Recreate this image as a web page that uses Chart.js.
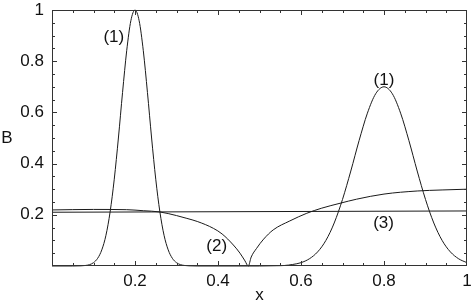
<!DOCTYPE html>
<html>
<head>
<meta charset="utf-8">
<script src="https://cdn.jsdelivr.net/npm/chart.js@4.4.1/dist/chart.umd.min.js"></script>
<style>
  html, body { margin: 0; padding: 0; background: #fff; }
</style>
</head>
<body>
<canvas id="bChart" width="472" height="304"></canvas>
<script>
// curve (1): two peaks
var curve1X = [0, 0.05, 0.07, 0.08, 0.09, 0.10, 0.11, 0.12, 0.13, 0.14, 0.15, 0.16, 0.17, 0.18, 0.19, 0.20,
  0.21, 0.22, 0.23, 0.24, 0.25, 0.26, 0.27, 0.28, 0.29, 0.30, 0.31, 0.32, 0.33, 0.35, 0.50,
  0.54, 0.56, 0.58, 0.60, 0.62, 0.64, 0.66, 0.68, 0.70, 0.72, 0.74, 0.76, 0.78, 0.80,
  0.82, 0.84, 0.86, 0.88, 0.90, 0.92, 0.94, 0.96, 0.98, 1.00];
var curve1Y = [0, 0, 0.0007, 0.002, 0.005, 0.013, 0.030, 0.063, 0.120, 0.211, 0.339, 0.50, 0.678, 0.841, 0.958, 1.0,
  0.958, 0.841, 0.678, 0.50, 0.339, 0.211, 0.120, 0.063, 0.030, 0.013, 0.005, 0.002, 0.0007, 0, 0,
  0.001, 0.002, 0.006, 0.013, 0.028, 0.055, 0.100, 0.168, 0.260, 0.371, 0.490, 0.597, 0.673, 0.70,
  0.673, 0.597, 0.490, 0.371, 0.260, 0.168, 0.100, 0.055, 0.028, 0.013];

// curve (2): dips to zero near x = 0.473
var curve2X = [0, 0.10, 0.18, 0.22, 0.26, 0.30, 0.325, 0.35, 0.389, 0.41, 0.437, 0.453, 0.465, 0.473,
  0.48, 0.493, 0.51, 0.533, 0.573, 0.614, 0.65, 0.694, 0.734, 0.80, 0.88, 0.94, 1.00];
var curve2Y = [0.219, 0.221, 0.220, 0.216, 0.211, 0.197, 0.186, 0.174, 0.147, 0.125, 0.082, 0.050, 0.020, 0,
  0.035, 0.069, 0.105, 0.141, 0.176, 0.206, 0.226, 0.245, 0.261, 0.281, 0.293, 0.297, 0.300];

// curve (3): nearly constant
var curve3X = [0, 1];
var curve3Y = [0.210, 0.215];

var xTickValues = [0.2, 0.4, 0.6, 0.8, 1];
var yTickValues = [0.2, 0.4, 0.6, 0.8, 1];

var curveNames = ['(1)', '(1)', '(2)', '(3)'];
var nameX = [0.149, 0.80, 0.397, 0.799];
var nameY = [0.895, 0.727, 0.078, 0.167];

function toPoints(xs, ys) {
  return xs.map(function(x, i) { return {x: x, y: ys[i]}; });
}

var lineColor = '#1a1a1a';
var font = 'Liberation Sans, Arial, Helvetica, sans-serif';

// frame, inward ticks, curve names and the B label
var framePlugin = {
  id: 'frame',
  afterDraw: function(chart) {
    var ctx = chart.ctx;
    var a = chart.chartArea;
    var xs = chart.scales.x, ys = chart.scales.y;
    ctx.save();
    ctx.strokeStyle = '#333';
    ctx.lineWidth = 1;
    ctx.strokeRect(a.left + 0.5, a.top + 0.5, a.right - a.left - 1, a.bottom - a.top - 1);
    ctx.beginPath();
    for (var i = 1; i < 20; i++) {
      var len = (i % 4 === 0) ? 5 : 3;
      var px = Math.round(xs.getPixelForValue(i / 20)) + 0.5;
      ctx.moveTo(px, a.bottom); ctx.lineTo(px, a.bottom - len);
      ctx.moveTo(px, a.top); ctx.lineTo(px, a.top + len);
      var py = Math.round(ys.getPixelForValue(i / 20)) + 0.5;
      ctx.moveTo(a.left, py); ctx.lineTo(a.left + len, py);
      ctx.moveTo(a.right, py); ctx.lineTo(a.right - len, py);
    }
    ctx.stroke();

    ctx.fillStyle = '#111';
    ctx.font = '17px ' + font;
    ctx.textAlign = 'center';
    ctx.textBaseline = 'middle';
    curveNames.forEach(function(t, i) {
      ctx.fillText(t, xs.getPixelForValue(nameX[i]), ys.getPixelForValue(nameY[i]));
    });
    ctx.fillText('B', 7, (a.top + a.bottom) / 2);
    ctx.restore();
  }
};

var ctx = document.getElementById('bChart').getContext('2d');
var bChart = new Chart(ctx, {
  type: 'line',
  data: {
    datasets: [
      { label: '(1)', data: toPoints(curve1X, curve1Y) },
      { label: '(2)', data: toPoints(curve2X, curve2Y) },
      { label: '(3)', data: toPoints(curve3X, curve3Y) }
    ]
  },
  options: {
    responsive: false,
    animation: false,
    devicePixelRatio: 1,
    layout: { padding: { top: 10, right: 5, left: 0, bottom: 0 } },
    elements: {
      line: { borderColor: lineColor, borderWidth: 1, cubicInterpolationMode: 'monotone', fill: false },
      point: { radius: 0 }
    },
    clip: false,
    plugins: { legend: { display: false }, tooltip: { enabled: false } },
    scales: {
      x: {
        type: 'linear',
        min: 0,
        max: 1,
        afterBuildTicks: function(s) { s.ticks = xTickValues.map(function(v) { return {value: v}; }); },
        afterFit: function(s) { s.height = 38; s.paddingLeft = 0; s.paddingRight = 0; },
        ticks: { color: '#111', font: { size: 17, family: font, lineHeight: 1 }, padding: 7, maxRotation: 0,
          callback: function(v) { return String(v); } },
        grid: { display: false, drawTicks: false },
        border: { display: false },
        title: { display: true, text: 'x', color: '#111', font: { size: 17, family: font, lineHeight: 1 }, padding: 0 }
      },
      y: {
        min: 0,
        max: 1,
        afterBuildTicks: function(s) { s.ticks = yTickValues.map(function(v) { return {value: v}; }); },
        afterFit: function(s) { s.width = 52; s.paddingTop = 0; s.paddingBottom = 0; },
        ticks: { color: '#111', font: { size: 17, family: font }, padding: 8,
          callback: function(v) { return String(v); } },
        grid: { display: false, drawTicks: false },
        border: { display: false }
      }
    }
  },
  plugins: [framePlugin]
});
</script>
</body>
</html>
